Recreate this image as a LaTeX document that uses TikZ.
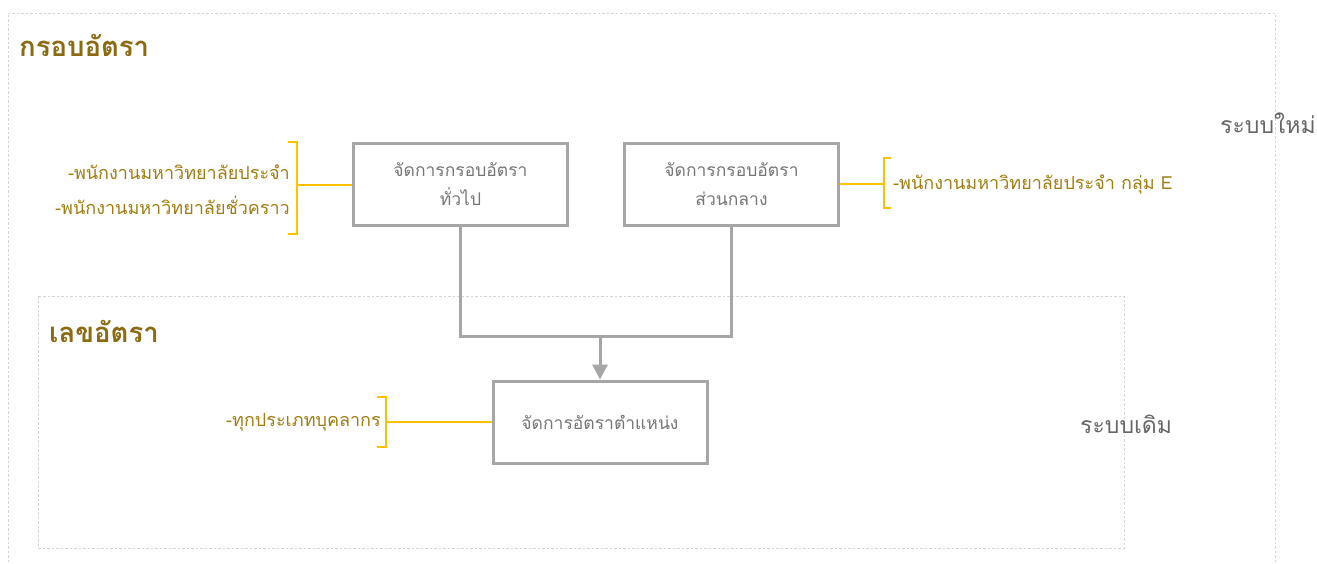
\documentclass[tikz,border=0pt]{standalone}
\usepackage{fontspec}
\newfontfamily\thaifont[Script=Thai]{Loma}
\usetikzlibrary{arrows.meta,positioning,calc}
\definecolor{boxgray}{HTML}{A6A6A6}
\definecolor{txtgray}{HTML}{767676}
\definecolor{sysgray}{HTML}{666666}
\definecolor{brkgold}{HTML}{FFC000}
\definecolor{lblgold}{HTML}{A07D12}
\definecolor{ttlgold}{HTML}{8C6A12}
\definecolor{dashgray}{HTML}{D4D4D4}

\begin{document}
\begin{tikzpicture}[x=1pt, y=-1pt, node distance=54pt, font=\thaifont]

\tikzset{
  proc/.style={draw=boxgray, line width=3pt, fill=white, align=center, text=txtgray,
    minimum width=214pt, minimum height=82pt, font=\thaifont\fontsize{17.5}{29}\selectfont},
  lbl/.style={text=lblgold, inner sep=0pt, font=\thaifont\fontsize{18}{35}\selectfont},
  ttl/.style={anchor=west, text=ttlgold, inner sep=0pt, font=\thaifont\bfseries\fontsize{27.5}{31}\selectfont},
  sys/.style={anchor=west, text=sysgray, inner sep=0pt, font=\thaifont\fontsize{23}{27}\selectfont},
  area/.style={draw=dashgray, line width=0.8pt, dash pattern=on 2.5pt off 2pt},
  % connector line styles
  conn/.style={draw=boxgray, line width=3pt},
  brk/.style={draw=brkgold, line width=1.5pt}
}

  \useasboundingbox (0,0) rectangle (1317,564);

  % dashed areas
  \draw[area] (8,580) -- (8,13) -- (1275,13) -- (1275,580);
  \draw[area] (38,296) rectangle (1124,548);

  \node[ttl] (frame_ttl) at (19,45) {กรอบอัตรา};
  \node[ttl] (num_ttl) at (49,331) {เลขอัตรา};
  \node[sys] (new_sys) at (1220,123) {ระบบใหม่};
  \node[sys] (old_sys) at (1080,424) {ระบบเดิม};

  \node[proc] (gen_box) at (460.5,184.5) {จัดการกรอบอัตรา\\ทั่วไป};
  \node[proc, right=of gen_box] (cen_box) {จัดการกรอบอัตรา\\ส่วนกลาง};
  \node[proc] (pos_box) at (600,422) {จัดการอัตราตำแหน่ง};

  \coordinate (merge) at (pos_box.north |- 0,336);
  \draw[conn, line join=miter] (gen_box.south) |- (merge) -| (cen_box.south);
  \draw[conn, -{Triangle[length=15pt, width=15pt]}] (merge) -- (pos_box.north);

  % brackets
  \coordinate (gen_brk) at (297,185);
  \draw[brk] (gen_brk) -- (gen_brk -| gen_box.west);
  \draw[brk] ($(gen_brk)+(-9,-43)$) -- ++(9,0) -- ++(0,92) -- ++(-9,0);
  \node[lbl, anchor=east, align=right] (gen_lbl) at (290,190)
    {-พนักงานมหาวิทยาลัยประจำ\\-พนักงานมหาวิทยาลัยชั่วคราว};

  \coordinate (cen_brk) at (884,184);
  \draw[brk] (cen_box.east |- cen_brk) -- (cen_brk);
  \draw[brk] ($(cen_brk)+(7,-26)$) -- ++(-7,0) -- ++(0,50) -- ++(7,0);
  \node[lbl, anchor=west] (cen_lbl) at (893,185) {-พนักงานมหาวิทยาลัยประจำ กลุ่ม E};

  \coordinate (pos_brk) at (386,422);
  \draw[brk] (pos_brk) -- (pos_brk -| pos_box.west);
  \draw[brk] ($(pos_brk)+(-9,-25)$) -- ++(9,0) -- ++(0,50) -- ++(-9,0);
  \node[lbl, anchor=east] (pos_lbl) at (381,422) {-ทุกประเภทบุคลากร};

\end{tikzpicture}
\end{document}
